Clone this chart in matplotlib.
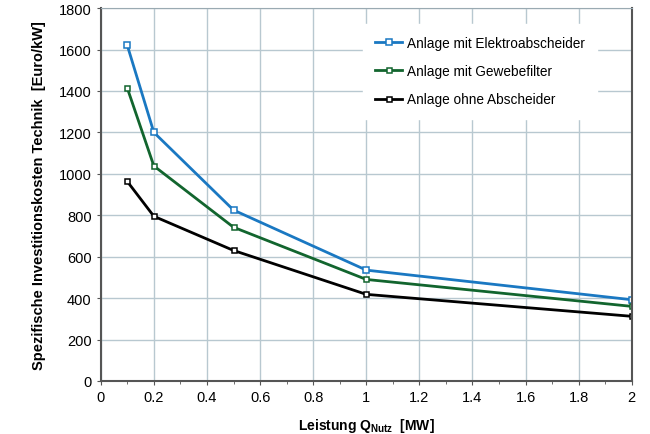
import numpy as np
import matplotlib
matplotlib.use("Agg")
import matplotlib.pyplot as plt
from matplotlib.ticker import MultipleLocator

plt.rcParams['font.family'] = ['Liberation Sans', 'DejaVu Sans']
plt.rcParams['mathtext.fontset'] = 'custom'
plt.rcParams['mathtext.rm'] = 'Liberation Sans:bold'
plt.rcParams['mathtext.bf'] = 'Liberation Sans:bold'

# Leistung in MW
leistung = [0.1, 0.2, 0.5, 1.0, 2.0]
elektro = [1620, 1200, 825, 535, 392]
gewebe = [1414, 1038, 742, 490, 360]
ohne = [963, 795, 630, 418, 312]

labels = ['Anlage mit Elektroabscheider', 'Anlage mit Gewebefilter', 'Anlage ohne Abscheider']
farben = ['#1a78c2', '#12652e', '#000000']
xticks = [0, 0.2, 0.4, 0.6, 0.8, 1.0, 1.2, 1.4, 1.6, 1.8, 2.0]
xticklabels = ['0', '0.2', '0.4', '0.6', '0.8', '1', '1.2', '1.4', '1.6', '1.8', '2']

fig = plt.figure(figsize=(6.5, 4.35), dpi=100)
ax = fig.add_axes([0.155, 0.122, 0.817, 0.857])

for y, lab, c in zip([elektro, gewebe, ohne], labels, farben):
    ax.plot(leistung, y, color=c, lw=2, marker='s', ms=4.5 if c == '#1a78c2' else 3.6,
            mfc='white', mec=c, mew=1.1, label=lab)

ax.set_xlim(0, 2)
ax.set_ylim(0, 1800)
ax.set_xticks(xticks)
ax.set_xticklabels(xticklabels)
ax.xaxis.set_minor_locator(MultipleLocator(0.1))
ax.yaxis.set_major_locator(MultipleLocator(200))
ax.grid(True, which='major', color='#b8c8d0', lw=1)
ax.set_axisbelow(True)
ax.tick_params(labelsize=10.5, length=3, color='#555555')
ax.tick_params(which='minor', length=2, color='#555555')

for s in ['left', 'bottom', 'right']:
    ax.spines[s].set_color('#555555')
    ax.spines[s].set_linewidth(1.5)
ax.spines['top'].set_color('#9aaab2')

ax.set_xlabel(r'Leistung Q$_{\mathrm{Nutz}}$  [MW]', fontsize=10, fontweight='bold', labelpad=9)
ax.set_ylabel('Spezifische Investitionskosten Technik  [Euro/kW]', fontsize=10.5,
              fontweight='bold', labelpad=9)

leg = ax.legend(loc='upper right', bbox_to_anchor=(0.948, 0.977), frameon=True, fontsize=9.8,
                handlelength=2.0, labelspacing=1.05, borderpad=0.9, handletextpad=0.35)
leg.get_frame().set_edgecolor('white')
leg.get_frame().set_facecolor('white')
leg.get_frame().set_alpha(1)
leg.get_frame().set_boxstyle('square', pad=0)

fig.savefig('out.png', dpi=100)
